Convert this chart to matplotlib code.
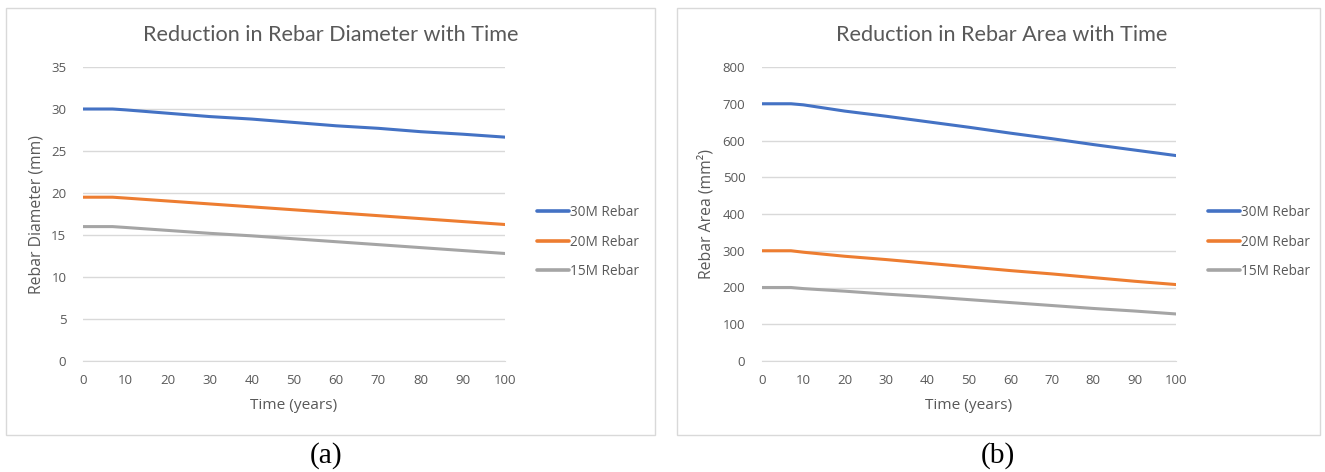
import matplotlib
matplotlib.use("Agg")
import matplotlib.pyplot as plt
from matplotlib.patches import Rectangle

# Time in years
years = [0, 7, 10, 20, 30, 40, 50, 60, 70, 80, 90, 100]

# Rebar diameter (mm)
dia_30m = [30.0, 30.0, 29.9, 29.5, 29.1, 28.8, 28.4, 28.0, 27.7, 27.3, 27.0, 26.65]
dia_20m = [19.5, 19.5, 19.4, 19.05, 18.7, 18.35, 18.0, 17.65, 17.3, 16.95, 16.6, 16.25]
dia_15m = [16.0, 16.0, 15.9, 15.55, 15.2, 14.9, 14.55, 14.2, 13.85, 13.5, 13.15, 12.8]

# Rebar area (mm^2)
area_30m = [700, 700, 697, 680, 666, 651, 636, 620, 605, 589, 574, 559]
area_20m = [300, 300, 296, 285, 276, 266, 256, 246, 237, 227, 217, 208]
area_15m = [200, 200, 197, 190, 182, 175, 167, 159, 151, 143, 136, 128]

series_labels = ["30M Rebar", "20M Rebar", "15M Rebar"]
colors = ["#4472C4", "#ED7D31", "#A5A5A5"]
x_ticks = list(range(0, 101, 10))

W, H = 1325, 472
UI_FONT = ["Open Sans", "DejaVu Sans"]
TITLE_FONT = ["Lato", "DejaVu Sans"]
CAP_FONT = ["Liberation Serif", "DejaVu Serif"]
text_col = "#595959"

plt.rcParams["font.family"] = UI_FONT

fig = plt.figure(figsize=(W / 100, H / 100), dpi=100)
renderer = fig.canvas.get_renderer()


def fx(px):
    return px / W


def fy(py):
    return 1 - py / H


def fit_size(text, target_px, family, base=10.0):
    """Font size (pt) at which `text` spans `target_px` pixels horizontally."""
    t = fig.text(0, 0, text, fontsize=base, family=family)
    w = t.get_window_extent(renderer).width
    t.remove()
    return base * target_px / w


title_size = fit_size("Reduction in Rebar Diameter with Time", 376, TITLE_FONT)
ylabel_size = fit_size("Rebar Diameter (mm)", 158, UI_FONT)
xlabel_size = fit_size("Time (years)", 87, UI_FONT)
legend_size = fit_size("30M Rebar", 69, UI_FONT)
tick_size = fit_size("100", 23, UI_FONT)
cap_size = fit_size("(a)", 33, CAP_FONT)

panels = [
    dict(box=(6, 8, 655, 435), ax=(83, 67, 505, 361),
         title="Reduction in Rebar Diameter with Time", title_x=331,
         ylabel="Rebar Diameter (mm)", ylabel_x=37,
         data=[dia_30m, dia_20m, dia_15m], ylim=(0, 35), ystep=5,
         caption="(a)", cap_x=326),
    dict(box=(677, 8, 1320, 435), ax=(762, 67, 1176, 361),
         title="Reduction in Rebar Area with Time", title_x=1002,
         ylabel="Rebar Area (mm²)", ylabel_x=706,
         data=[area_30m, area_20m, area_15m], ylim=(0, 800), ystep=100,
         caption="(b)", cap_x=998),
]

fs_px = legend_size * 100 / 72.0   # legend font size in pixels
row_px = 28                         # distance between legend rows

for p in panels:
    bx0, by0, bx1, by1 = p["box"]
    fig.patches.append(Rectangle((fx(bx0), fy(by1)), fx(bx1 - bx0), (by1 - by0) / H,
                                 transform=fig.transFigure, fill=False,
                                 edgecolor="#D9D9D9", linewidth=1.0))
    ax0, ay0, ax1, ay1 = p["ax"]
    ax = fig.add_axes([fx(ax0), fy(ay1), fx(ax1 - ax0), (ay1 - ay0) / H])
    for vals, lab, col in zip(p["data"], series_labels, colors):
        ax.plot(years, vals, color=col, linewidth=2.2, label=lab,
                solid_capstyle="round", zorder=3)
    ax.set_xlim(0, 100)
    lo, hi = p["ylim"]
    ax.set_ylim(lo, hi)
    ax.set_yticks(list(range(lo, hi + 1, p["ystep"])))
    ax.set_xticks(x_ticks)
    ax.grid(axis="y", color="#D9D9D9", linewidth=1.0, zorder=0)
    for s in ["top", "right", "left"]:
        ax.spines[s].set_visible(False)
    ax.spines["bottom"].set_color("#D9D9D9")
    ax.tick_params(axis="both", length=0, labelsize=tick_size, labelcolor=text_col)
    ax.tick_params(axis="y", pad=12)
    ax.tick_params(axis="x", pad=9)
    ax.set_xlabel("Time (years)", fontsize=xlabel_size, color=text_col)
    ax.xaxis.set_label_coords(0.5, (ay1 - 398) / (ay1 - ay0))
    ax.xaxis.label.set_va("top")
    ax.set_ylabel(p["ylabel"], fontsize=ylabel_size, color=text_col)
    ax.yaxis.set_label_coords((p["ylabel_x"] - ax0) / (ax1 - ax0), 0.5)
    ax.yaxis.label.set_va("center")

    leg = ax.legend(loc="center left",
                    bbox_to_anchor=(1 + 32 / (ax1 - ax0), (ay1 - 242) / (ay1 - ay0)),
                    frameon=False, fontsize=legend_size,
                    handlelength=32 / fs_px, handletextpad=0.05,
                    labelspacing=(row_px - 1.0 * fs_px) / fs_px,
                    borderpad=0, borderaxespad=0)
    for t in leg.get_texts():
        t.set_color(text_col)
    for h in leg.get_lines():
        h.set_linewidth(2.6)

    fig.text(fx(p["title_x"]), fy(35), p["title"], ha="center", va="center",
             fontsize=title_size, family=TITLE_FONT, color=text_col)
    fig.text(fx(p["cap_x"]), fy(456), p["caption"], ha="center", va="center",
             fontsize=cap_size, family=CAP_FONT, color="black")

fig.savefig("out.png", dpi=100, facecolor="white")
